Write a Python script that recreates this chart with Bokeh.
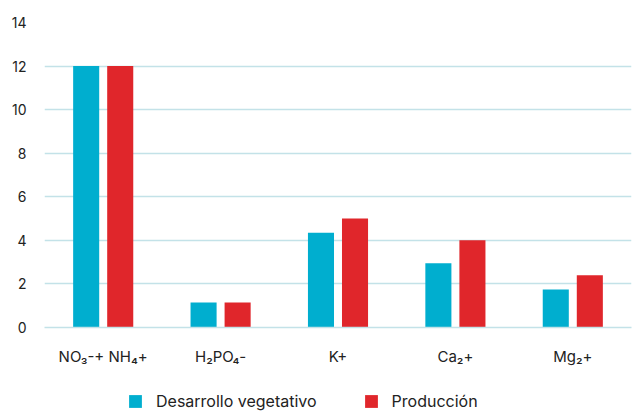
from bokeh.plotting import figure
from bokeh.layouts import column
from bokeh.models import ColumnDataSource, FactorRange, Range1d, Legend, LegendItem, FixedTicker
from bokeh.transform import dodge
from bokeh.embed import file_html
from bokeh.resources import INLINE

categories = ["NO₃-+ NH₄+", "H₂PO₄-", "K+", "Ca₂+", "Mg₂+"]
desarrollo = [12, 1.15, 4.35, 2.95, 1.75]
produccion = [12, 1.15, 5.0, 4.0, 2.4]
y_ticks = [0, 2, 4, 6, 8, 10, 12, 14]
series_names = ["Desarrollo vegetativo", "Producción"]

BLUE = "#00AECF"
RED = "#E0262B"
GRID = "#c3e2e8"
FONT = "Inter"
TXT = "#222222"

src = ColumnDataSource(dict(cat=categories, d=desarrollo, p=produccion))

p = figure(x_range=FactorRange(*categories, range_padding=0), y_range=Range1d(0, 14),
           width=639, height=370, output_backend="svg", toolbar_location=None,
           min_border_left=44, min_border_right=8, min_border_top=22, min_border_bottom=43)
p.outline_line_color = None

p.vbar(x=dodge("cat", -0.145, range=p.x_range), top="d", width=0.222, source=src,
       fill_color=BLUE, line_color=None)
p.vbar(x=dodge("cat", 0.145, range=p.x_range), top="p", width=0.222, source=src,
       fill_color=RED, line_color=None)

p.xgrid.grid_line_color = None
p.ygrid.grid_line_color = GRID
p.ygrid.grid_line_width = 1.5
p.yaxis.ticker = FixedTicker(ticks=y_ticks)
p.yaxis.axis_line_color = None
p.yaxis.major_tick_line_color = None
p.yaxis.minor_tick_line_color = None
p.yaxis.major_label_standoff = 12
p.yaxis.major_label_text_font = FONT
p.yaxis.major_label_text_font_size = "14px"
p.yaxis.major_label_text_color = TXT

p.xaxis.axis_line_color = GRID
p.xaxis.axis_line_width = 1.5
p.xaxis.major_tick_line_color = None
p.xaxis.minor_tick_line_color = None
p.xaxis.major_label_standoff = 13
p.xaxis.major_label_text_font = FONT
p.xaxis.major_label_text_font_size = "15px"
p.xaxis.major_label_text_color = TXT

# legend strip (legend-only renderers placed outside the visible range)
lg = figure(width=639, height=43, output_backend="svg", toolbar_location=None,
            x_range=Range1d(0, 1), y_range=Range1d(0, 1),
            x_axis_location=None, y_axis_location=None,
            min_border_left=44, min_border_right=8, min_border_top=0, min_border_bottom=0)
lg.outline_line_color = None
lg.grid.grid_line_color = None
offscreen = ColumnDataSource(dict(x=[-10], top=[-10]))
g1 = lg.vbar(x="x", top="top", width=0.1, source=offscreen, fill_color=BLUE, line_color=None)
g2 = lg.vbar(x="x", top="top", width=0.1, source=offscreen, fill_color=RED, line_color=None)
legend = Legend(items=[LegendItem(label=series_names[0], renderers=[g1]),
                       LegendItem(label=series_names[1], renderers=[g2])],
                orientation="horizontal", location=(83, 2),
                glyph_width=16, glyph_height=16, label_height=16, label_standoff=13, spacing=46,
                label_text_font=FONT, label_text_font_size="16px", label_text_color=TXT,
                border_line_color=None, background_fill_alpha=0, padding=0, margin=0)
lg.add_layout(legend, "center")

open("out.html", "w").write(file_html(column(p, lg, spacing=0), INLINE))
